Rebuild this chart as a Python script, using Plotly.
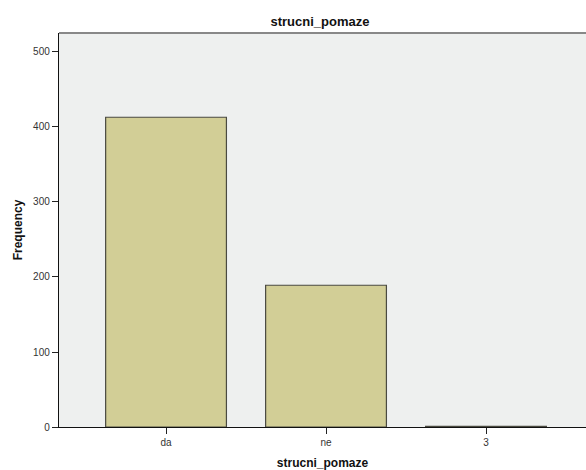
import plotly.graph_objects as go

categories = ["da", "ne", "3"]
frequencies = [413, 189, 1]
y_tick_values = [0, 100, 200, 300, 400, 500]

W, H = 586, 470

fig = go.Figure()
fig.add_trace(go.Bar(
    x=categories,
    y=frequencies,
    width=0.755,
    marker=dict(color="#D2CE96", line=dict(color="#4a4a40", width=1.2)),
))

fig.update_layout(
    width=W, height=H,
    margin=dict(l=59, r=0, t=33, b=43, autoexpand=False),
    paper_bgcolor="white",
    plot_bgcolor="#EEF0EF",
    showlegend=False,
    font=dict(family="Liberation Sans, Arial", size=10, color="#333333"),
    title=dict(text="<b>strucni_pomaze</b>", x=320 / W, xanchor="center",
               y=1 - 21 / H, yanchor="middle",
               font=dict(size=13, color="#111111")),
    bargap=0,
)
fig.update_xaxes(
    type="category",
    range=[-0.669, 2.625],
    showline=True, linecolor="#111111", linewidth=1.2,
    ticks="outside", ticklen=6, tickcolor="#222222", tickwidth=1,
    showgrid=False, zeroline=False,
    tickfont=dict(size=10, color="#333333"),
    title=dict(text="<b>strucni_pomaze</b>", standoff=12,
               font=dict(size=12, color="#111111")),
)
fig.update_yaxes(
    range=[0, 525.3],
    tickvals=y_tick_values,
    showline=True, linecolor="#111111", linewidth=1.2,
    ticks="outside", ticklen=6, tickcolor="#222222", tickwidth=1,
    showgrid=False, zeroline=False,
    tickfont=dict(size=10, color="#333333"),
    title=dict(text="<b>Frequency</b>", standoff=8,
               font=dict(size=12, color="#111111")),
)
# top border of the plot frame
fig.add_shape(type="line", xref="paper", yref="paper", x0=0, x1=1, y0=1, y1=1,
              line=dict(color="#888888", width=2))

fig.write_html(
    "out.html",
    config={"displayModeBar": False, "staticPlot": True},
    post_script="document.body.style.margin='0';document.body.style.overflow='hidden';",
)
